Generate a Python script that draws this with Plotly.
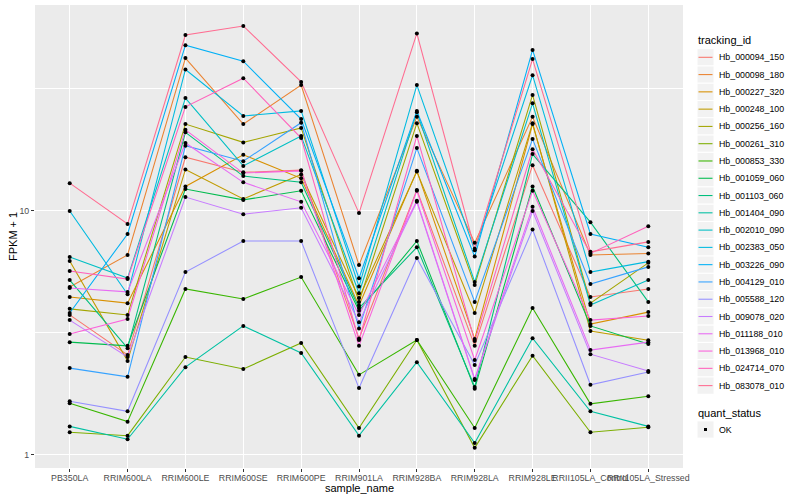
import plotly.graph_objects as go

samples = ["PB350LA", "RRIM600LA", "RRIM600LE", "RRIM600SE", "RRIM600PE",
           "RRIM901LA", "RRIM928BA", "RRIM928LA", "RRIM928LE",
           "RRII105LA_Control", "RRII105LA_Stressed"]

tracking_ids = ["Hb_000094_150", "Hb_000098_180", "Hb_000227_320", "Hb_000248_100",
                "Hb_000256_160", "Hb_000261_310", "Hb_000853_330", "Hb_001059_060",
                "Hb_001103_060", "Hb_001404_090", "Hb_002010_090", "Hb_002383_050",
                "Hb_003226_090", "Hb_004129_010", "Hb_005588_120", "Hb_009078_020",
                "Hb_011188_010", "Hb_013968_010", "Hb_024714_070", "Hb_083078_010"]

colors = ["#F8766D", "#EA8331", "#D89000", "#C09B00", "#A3A500", "#7CAE00", "#39B600",
          "#00BB4E", "#00BF7D", "#00C1A3", "#00BFC4", "#00BAE0", "#00B0F6", "#35A2FF",
          "#9590FF", "#C77CFF", "#E76BF3", "#FA62DB", "#FF62BC", "#FF6C91"]

# FPKM + 1 values per sample
Hb_000094_150 = [3.75, 2.57, 16.6, 14.4, 14.7, 3.0, 12.2, 2.80, 15.4, 4.44, 4.79]
Hb_000098_180 = [4.88, 6.6, 42.3, 22.7, 32.8, 6.0, 24.3, 7.4, 24.3, 6.6, 6.7]
Hb_000227_320 = [4.44, 4.19, 12.6, 17.0, 13.6, 4.1, 14.6, 2.99, 22.7, 3.44, 3.85]
Hb_000248_100 = [6.24, 2.43, 14.8, 11.2, 14.1, 4.4, 14.5, 3.82, 22.9, 3.22, 2.95]
Hb_000256_160 = [3.97, 3.75, 22.7, 19.1, 21.9, 4.24, 22.9, 4.97, 29.9, 4.19, 6.13]
Hb_000261_310 = [1.24, 1.20, 2.52, 2.25, 2.88, 1.29, 2.96, 1.07, 2.55, 1.24, 1.30]
Hb_000853_330 = [1.63, 1.37, 4.79, 4.36, 5.36, 2.13, 2.96, 1.29, 4.0, 1.62, 1.74]
Hb_001059_060 = [2.90, 2.80, 12.3, 11.1, 12.1, 3.9, 7.53, 1.87, 12.6, 3.38, 2.85]
Hb_001103_060 = [5.21, 2.74, 21.0, 13.9, 13.1, 4.0, 7.1, 1.90, 17.1, 9.0, 4.24]
Hb_001404_090 = [1.31, 1.16, 2.29, 3.38, 2.62, 1.20, 2.40, 1.12, 3.01, 1.51, 1.31]
Hb_002010_090 = [6.48, 5.31, 29.0, 15.3, 20.3, 4.6, 25.4, 5.12, 27.6, 4.12, 5.21]
Hb_002383_050 = [10.0, 4.56, 38.0, 24.5, 25.7, 4.9, 32.8, 6.9, 36.0, 5.62, 6.2]
Hb_003226_090 = [3.82, 8.05, 47.8, 41.1, 23.8, 5.3, 25.7, 6.5, 45.7, 8.05, 7.1]
Hb_004129_010 = [2.27, 2.09, 18.5, 16.0, 23.0, 3.3, 18.1, 4.24, 19.7, 5.02, 5.9]
Hb_005588_120 = [1.66, 1.51, 5.62, 7.53, 7.53, 1.88, 6.42, 2.34, 8.4, 1.94, 2.19]
Hb_009078_020 = [3.57, 2.52, 11.4, 9.7, 10.3, 3.5, 10.9, 2.03, 10.0, 2.59, 2.21]
Hb_011188_010 = [4.83, 4.66, 19.0, 13.1, 10.9, 3.75, 11.0, 2.05, 10.4, 2.69, 2.90]
Hb_013968_010 = [3.13, 3.61, 21.5, 14.3, 14.6, 2.8, 12.1, 2.45, 12.1, 3.57, 3.71]
Hb_024714_070 = [5.68, 5.26, 26.7, 35.0, 19.9, 2.96, 20.3, 2.93, 17.9, 6.7, 8.66]
Hb_083078_010 = [13.0, 8.85, 52.6, 57.3, 33.8, 9.8, 53.4, 7.0, 41.9, 6.8, 7.47]

series = [Hb_000094_150, Hb_000098_180, Hb_000227_320, Hb_000248_100, Hb_000256_160,
          Hb_000261_310, Hb_000853_330, Hb_001059_060, Hb_001103_060, Hb_001404_090,
          Hb_002010_090, Hb_002383_050, Hb_003226_090, Hb_004129_010, Hb_005588_120,
          Hb_009078_020, Hb_011188_010, Hb_013968_010, Hb_024714_070, Hb_083078_010]

quant_levels = ["OK"]

FONT = "Liberation Sans, Arial, Helvetica, sans-serif"
W, H = 800, 500
ML, MR, MT, MB = 35, 117, 5, 32
PW, PH = W - ML - MR, H - MT - MB


def px_x(px):
    return (px - ML) / PW


def px_y(py):
    return (H - MB - py) / PH


fig = go.Figure()

for name, col, vals in zip(tracking_ids, colors, series):
    fig.add_trace(go.Scatter(x=samples, y=vals, mode="lines", name=name,
                             line=dict(color=col, width=1.07), showlegend=False))

for name, vals in zip(tracking_ids, series):
    fig.add_trace(go.Scatter(x=samples, y=vals, mode="markers", name=name,
                             marker=dict(color="black", size=4, symbol="circle"),
                             showlegend=False))

shapes = []
annotations = []

# legend: tracking_id
key_x0, key_x1 = 697, 714
step = 17.28
first_c = 57.3
annotations.append(dict(x=px_x(696), y=px_y(40.5), xref="paper", yref="paper",
                        text="tracking_id", showarrow=False, xanchor="left", yanchor="middle",
                        font=dict(size=11, color="black", family=FONT)))
for i, (name, col) in enumerate(zip(tracking_ids, colors)):
    c = first_c + step * i
    shapes.append(dict(type="rect", xref="paper", yref="paper",
                       x0=px_x(key_x0), x1=px_x(key_x1), y0=px_y(c - step / 2), y1=px_y(c + step / 2),
                       fillcolor="#F2F2F2", line=dict(color="white", width=1), layer="above"))
    shapes.append(dict(type="line", xref="paper", yref="paper",
                       x0=px_x(key_x0 + 1.5), x1=px_x(key_x1 - 1.5), y0=px_y(c), y1=px_y(c),
                       line=dict(color=col, width=1.07), layer="above"))
    annotations.append(dict(x=px_x(716.5), y=px_y(c), xref="paper", yref="paper",
                            text=name, showarrow=False, xanchor="left", yanchor="middle",
                            font=dict(size=8.8, color="black", family=FONT)))

# legend: quant_status
annotations.append(dict(x=px_x(696), y=px_y(412.5), xref="paper", yref="paper",
                        text="quant_status", showarrow=False, xanchor="left", yanchor="middle",
                        font=dict(size=11, color="black", family=FONT)))
for j, lev in enumerate(quant_levels):
    c = 429.5 + step * j
    shapes.append(dict(type="rect", xref="paper", yref="paper",
                       x0=px_x(key_x0), x1=px_x(key_x1), y0=px_y(c - step / 2), y1=px_y(c + step / 2),
                       fillcolor="#F2F2F2", line=dict(color="white", width=1), layer="above"))
    shapes.append(dict(type="rect", xref="paper", yref="paper",
                       x0=px_x(704), x1=px_x(707), y0=px_y(c - 1.5), y1=px_y(c + 1.5),
                       fillcolor="black", line=dict(width=0), layer="above"))
    annotations.append(dict(x=px_x(716.5), y=px_y(c), xref="paper", yref="paper",
                            text=lev, showarrow=False, xanchor="left", yanchor="middle",
                            font=dict(size=8.8, color="black", family=FONT)))

# axis titles
annotations.append(dict(x=px_x(359), y=px_y(488), xref="paper", yref="paper",
                        text="sample_name", showarrow=False, xanchor="center", yanchor="middle",
                        borderpad=0, font=dict(size=11, color="black", family=FONT)))
annotations.append(dict(x=px_x(12.5), y=px_y(236.5), xref="paper", yref="paper",
                        text="FPKM + 1", showarrow=False, xanchor="center", yanchor="middle",
                        textangle=-90, font=dict(size=11, color="black", family=FONT)))

fig.update_layout(
    width=W, height=H,
    margin=dict(l=ML, r=MR, t=MT, b=MB, pad=0),
    plot_bgcolor="#EBEBEB", paper_bgcolor="white",
    font=dict(family=FONT),
    showlegend=False,
    shapes=shapes, annotations=annotations,
    xaxis=dict(type="category", categoryorder="array", categoryarray=samples,
               range=[-0.6, len(samples) - 0.4], showgrid=True, gridcolor="white", gridwidth=1.07,
               zeroline=False, showline=False, ticks="outside", ticklen=3, tickwidth=1.07,
               tickcolor="#333333", tickangle=0, ticklabelstandoff=-2,
               tickfont=dict(size=8.8, color="#4D4D4D", family=FONT)),
    yaxis=dict(type="log", range=[-0.0533, 1.844], tickvals=[1, 10], ticktext=["1", "10"],
               showgrid=True, gridcolor="white", gridwidth=1.07, zeroline=False, showline=False,
               ticks="outside", ticklen=3, tickwidth=1.07, tickcolor="#333333",
               tickfont=dict(size=8.8, color="#4D4D4D", family=FONT),
               minor=dict(tickvals=[10 ** 0.5, 10 ** 1.5], showgrid=True, gridcolor="white",
                          gridwidth=0.53, ticks="")),
)

fig.write_html("out.html", config={"displayModeBar": False},
               post_script="document.body.style.margin='0px';document.body.style.overflow='hidden';")
